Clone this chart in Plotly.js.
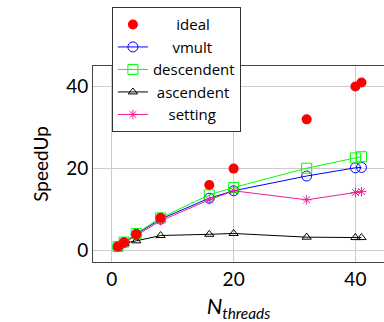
<!DOCTYPE html>
<html><head><meta charset="utf-8">
<script src="https://cdn.plot.ly/plotly-3.0.1.min.js"></script>
<style>body{margin:0;padding:0;background:#fff}#plot{width:384px;height:322px}</style>
</head><body><div id="plot"></div>
<script>
const threads = [1, 2, 4, 8, 16, 20, 32, 40, 41];
const ideal = [1, 2, 4, 8, 16, 20, 32, 40, 41];
const vmult = [1, 2, 4, 7.7, 12.8, 14.6, 18.2, 20.2, 20.3];
const descendent = [1, 2.1, 4.2, 8.0, 13.6, 15.4, 20.1, 22.6, 22.9];
const ascendent = [1, 1.8, 2.4, 3.7, 4.0, 4.2, 3.3, 3.2, 3.2];
const setting = [1, 1.9, 3.8, 7.3, 12.4, 14.6, 12.4, 14.2, 14.4];
const seriesNames = ['ideal', 'vmult', 'descendent', 'ascendent', 'setting'];
const xTicks = [0, 20, 40];
const yTicks = [0, 20, 40];

// centre legend labels in their column with leading non-breaking spaces
const pad = [6, 5, 0, 1, 4];
const label = i => '\u00a0'.repeat(pad[i]) + seriesNames[i];

const font = 'Lato, "Open Sans", sans-serif';
const legendFont = '"Open Sans", Lato, sans-serif';
const traces = [
  {name:label(1), x:threads, y:vmult, mode:'lines+markers', legendrank:2,
   line:{color:'#0000ff', width:1}, marker:{symbol:'circle-open', size:10, color:'#0000ff', line:{width:1}}},
  {name:label(2), x:threads, y:descendent, mode:'lines+markers', legendrank:3,
   line:{color:'#00ff00', width:1}, marker:{symbol:'square-open', size:10, color:'#00ff00', line:{width:1}}},
  {name:label(3), x:threads, y:ascendent, mode:'lines+markers', legendrank:4,
   line:{color:'#000000', width:1}, marker:{symbol:'triangle-up-open', size:8, color:'#000000', line:{width:1}}},
  {name:label(4), x:threads, y:setting, mode:'lines+markers', legendrank:5,
   line:{color:'#ee1f94', width:1}, marker:{symbol:'asterisk-open', size:8, color:'#ee1f94', line:{width:1, color:'#ee1f94'}}},
  {name:label(0), x:threads, y:ideal, mode:'markers', legendrank:1,
   marker:{symbol:'circle', size:10, color:'#ff0000'}}
];
const axisCommon = {
  showgrid:true, gridcolor:'#cccccc', gridwidth:1, zeroline:false,
  showline:true, mirror:true, linecolor:'#444444', linewidth:1,
  ticks:'', tickfont:{family:font, size:19, color:'#000'}
};
const layout = {
  width:384, height:322, paper_bgcolor:'#fff', plot_bgcolor:'#fff',
  margin:{l:93, r:0, t:66, b:60},
  font:{family:font, color:'#000'},
  showlegend:true,
  legend:{x:0.065, y:1.30, xanchor:'left', yanchor:'top', bgcolor:'#fff',
    bordercolor:'#333', borderwidth:1, font:{family:legendFont, size:15, color:'#000'},
    tracegroupgap:0},
  xaxis:Object.assign({}, axisCommon, {range:[-3.1, 44.7], tickvals:xTicks,
    title:{text:'<i>N<sub>threads</sub></i>', font:{family:font, size:22}, standoff:12}}),
  yaxis:Object.assign({}, axisCommon, {range:[-2.75, 45], tickvals:yTicks,
    title:{text:'SpeedUp', font:{family:font, size:19}, standoff:12}})
};
Plotly.newPlot('plot', traces, layout, {displayModeBar:false, staticPlot:true});
</script></body></html>
